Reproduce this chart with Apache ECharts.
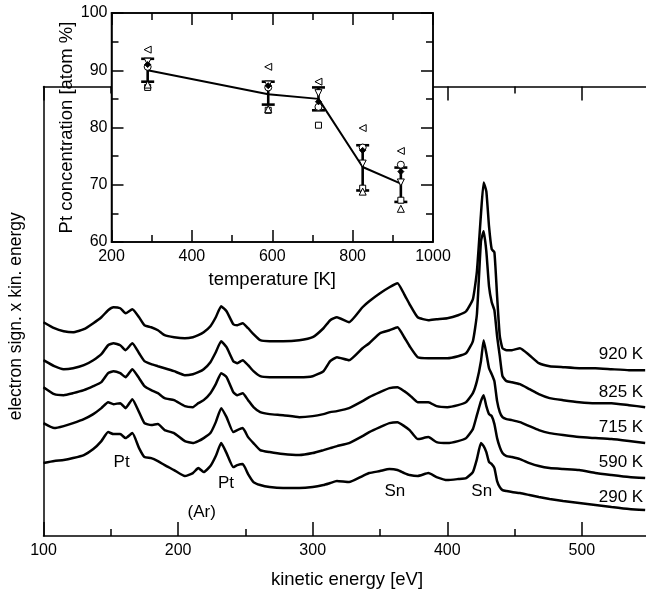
<!DOCTYPE html>
<html><head><meta charset="utf-8">
<script src="https://cdn.jsdelivr.net/npm/echarts@6/dist/echarts.min.js"></script>
<style>html,body{margin:0;padding:0;background:#fff}#c{width:646px;height:595px}</style>
</head><body><div id="c"></div>
<script>
// ---- main spectra (kinetic energy [eV] vs. electron signal x kinetic energy, offset, arb. units)
const energy = [100,108,115,122,130,137,143,148,152,157,161,166,171,175,180,185,190,197,205,211,215,219,224,228,232,236,241,244,248,252,256,261,268,278,290,300,308,313,318,327,337,342,350,357,363,368,372,378,386,392,400,408,414,419,422,425,427,429,431,433,435,437,439,441,444,448,454,461,468,476,486,498,510,522,535,547];
const s290 = [73,75,76,78,81,87,95,104,102,102,98,103,88,79,78,75,71,66,60,63,68,64,70,80,93,83,69,71,72,62,54,51,49,48,48,49,51,53,55,54,60,63,65,67,66,63,61,60,63,59,56,57,58,64,77,93,90,84,74,72,68,55,49,46,45,44,43,41,39,37,35,33,31,29,27,26];
const s590 = [113,108,110,113,117,122,128,134,132,133,128,137,124,113,111,112,106,103,95,93,95,98,103,114,128,119,104,106,108,99,93,86,84,82,81,83,86,88,90,93,100,104,109,113,114,110,106,97,99,94,93,95,98,107,121,135,141,130,122,120,112,98,89,83,80,79,77,73,70,68,67,66,63,61,59,58];
const s715 = [149,142,141,143,146,150,154,163,165,163,159,167,158,150,146,143,138,136,130,129,133,136,143,152,163,159,144,141,143,136,129,124,122,121,119,120,122,124,125,128,135,139,144,148,149,145,141,134,134,130,129,131,134,143,155,175,196,183,168,162,155,135,124,119,117,116,114,110,106,103,101,99,98,97,95,93];
const s825 = [176,170,167,168,171,176,182,191,193,191,186,193,183,175,172,170,168,165,161,162,164,167,174,184,195,189,175,173,176,171,165,160,159,159,159,160,165,175,179,176,188,193,203,206,209,199,190,179,178,178,178,180,183,195,222,295,305,285,250,234,226,200,180,160,155,154,152,147,142,138,136,134,133,133,131,129];
const s920 = [214,208,205,204,207,213,219,226,229,228,223,227,219,211,209,206,201,199,198,199,201,204,210,219,230,225,212,211,213,208,202,196,195,195,196,199,208,216,219,214,229,235,243,249,253,242,232,219,216,217,218,221,225,237,265,322,354,345,310,287,284,240,200,188,186,186,188,181,173,170,169,168,168,167,166,166];
const spectrumNames = ['290 K','590 K','715 K','825 K','920 K'];
const spectrumLabelY = [39, 74, 109, 144, 182];
const spectrumLabelE = 545.5;
const peakNames = ['Pt','Pt','(Ar)','Sn','Sn'];
const peakE = [158, 235.6, 217.5, 361, 425.6];
const peakY = [74, 53, 24, 45, 45];

// ---- inset: Pt concentration vs temperature
const temps = [290, 590, 715, 825, 920];
const ptMean = [90, 85.8, 85, 73.1, 70.2];
const ptHi = [92, 88, 87, 76.9, 73];
const ptLo = [88, 84, 83, 69, 67];
const ptLeftTri = [93.6, 90.6, 88.0, 79.9, 75.9];
const ptDownTri = [91.5, 87.5, 86.0, 73.7, 70.4];
const ptCircle = [90.6, 87.0, 83.6, 76.5, 73.5];
const ptDiamond = [91.0, 87.3, 84.5, 76.0, 72.3];
const ptSquare = [87.0, 83.0, 80.4, 69.4, 67.3];
const ptUpTri = [87.5, 83.2, 83.8, 68.8, 65.8];

const FONT = "'Liberation Sans', Arial, Helvetica, sans-serif";
const BLACK = '#000';

function pairs(xs, ys){ return xs.map((x,i)=>[x, ys[i]]); }

const spectra = [s290, s590, s715, s825, s920];
const series = [];
spectra.forEach((s, k) => {
  series.push({
    type: 'line', xAxisIndex: 0, yAxisIndex: 0, data: pairs(energy, s),
    showSymbol: false, symbol: 'none', smooth: 0.15,
    lineStyle: {color: BLACK, width: 2.5}, z: 2, silent: true
  });
});
series.push({
  type: 'scatter', xAxisIndex: 0, yAxisIndex: 0, symbolSize: 0, z: 3,
  itemStyle: {opacity: 1},
  data: spectrumNames.map((n,i)=>({name:n, value:[spectrumLabelE, spectrumLabelY[i]]})),
  label: {show: true, position: 'left', distance: 0, formatter: p => p.name,
    color: BLACK, fontSize: 17, fontFamily: FONT}
});
series.push({
  type: 'scatter', xAxisIndex: 0, yAxisIndex: 0, symbolSize: 0, z: 3,
  itemStyle: {opacity: 1},
  data: peakNames.map((n,i)=>({name:n, value:[peakE[i], peakY[i]]})),
  label: {show: true, position: 'inside', formatter: p => p.name,
    color: BLACK, fontSize: 17, fontFamily: FONT}
});

// inset series
series.push({
  type: 'line', xAxisIndex: 2, yAxisIndex: 1, data: pairs(temps, ptMean),
  showSymbol: false, symbol: 'none', lineStyle: {color: BLACK, width: 2}, z: 20, silent: true
});
series.push({
  type: 'custom', xAxisIndex: 2, yAxisIndex: 1, z: 21, silent: true,
  data: temps.map((t,i)=>[t, ptLo[i], ptHi[i]]),
  encode: {x: 0, y: [1,2]},
  renderItem: (params, api) => {
    const x = api.value(0);
    const a = api.coord([x, api.value(2)]);
    const b = api.coord([x, api.value(1)]);
    const w = 6.5;
    const st = {stroke: BLACK, lineWidth: 2.6};
    return {type: 'group', children: [
      {type:'line', shape:{x1:a[0], y1:a[1], x2:b[0], y2:b[1]}, style: st},
      {type:'line', shape:{x1:a[0]-w, y1:a[1], x2:a[0]+w, y2:a[1]}, style: st},
      {type:'line', shape:{x1:b[0]-w, y1:b[1], x2:b[0]+w, y2:b[1]}, style: st}
    ]};
  }
});
function markerSeries(vals, symbol, rotate, size, filled){
  return {type:'scatter', xAxisIndex: 2, yAxisIndex: 1, data: pairs(temps, vals),
    symbol: symbol, symbolRotate: rotate, symbolSize: size, z: 22, silent: true,
    itemStyle: {color: filled ? BLACK : '#fff', borderColor: BLACK, borderWidth: 1, opacity: 1}};
}
series.push(markerSeries(ptLeftTri, 'triangle', 90, 7, false));
series.push(markerSeries(ptSquare, 'rect', 0, 6, false));
series.push(markerSeries(ptUpTri, 'triangle', 0, 7, false));
series.push(markerSeries(ptCircle, 'circle', 0, 7, false));
series.push(markerSeries(ptDownTri, 'triangle', 180, 7, false));
series.push(markerSeries(ptDiamond, 'diamond', 0, 6, true));

const axLine = {lineStyle: {color: BLACK, width: 1.5}};
const plain = v => String(v);
const chart = echarts.init(document.getElementById('c'), null, {renderer: 'canvas'});
chart.setOption({
  animation: false,
  backgroundColor: '#fff',
  textStyle: {fontFamily: FONT},
  grid: [
    {left: 43.5, top: 86.5, width: 673, height: 449.5, z: 0, outerBoundsMode: 'none', containLabel: false},
    {left: 111.5, top: 13, width: 321.5, height: 229, show: true, backgroundColor: '#fff',
     borderColor: BLACK, borderWidth: 1.5, z: 8, outerBoundsMode: 'none', containLabel: false}
  ],
  xAxis: [
    {gridIndex: 0, type: 'value', min: 100, max: 600, interval: 100, position: 'bottom', z: 1,
     axisLine: axLine, axisTick: {inside: true, length: 14, lineStyle: {color: BLACK, width: 1.5}},
     minorTick: {show: true, splitNumber: 2, length: 7, lineStyle: {color: BLACK, width: 1.5}},
     axisLabel: {color: BLACK, fontSize: 16, margin: 7, fontFamily: FONT, formatter: plain},
     splitLine: {show: false},
     name: 'kinetic energy [eV]', nameLocation: 'middle', nameGap: 34,
     nameTextStyle: {color: BLACK, fontSize: 18.5, fontFamily: FONT, padding: [0, 66, 0, 0]}
    },
    {gridIndex: 0, type: 'value', min: 100, max: 600, interval: 100, position: 'top', z: 1,
     axisLine: axLine, axisTick: {inside: true, length: 14, lineStyle: {color: BLACK, width: 1.5}},
     minorTick: {show: true, splitNumber: 2, length: 7, lineStyle: {color: BLACK, width: 1.5}},
     axisLabel: {show: false}, splitLine: {show: false}},
    {gridIndex: 1, type: 'value', min: 200, max: 1000, interval: 200, position: 'bottom', z: 9,
     axisLine: axLine, axisTick: {inside: true, length: 12, lineStyle: {color: BLACK, width: 1.5}},
     minorTick: {show: true, splitNumber: 2, length: 7, lineStyle: {color: BLACK, width: 1.5}},
     axisLabel: {color: BLACK, fontSize: 16, margin: 7, fontFamily: FONT, formatter: plain},
     splitLine: {show: false},
     name: 'temperature [K]', nameLocation: 'middle', nameGap: 28,
     nameTextStyle: {color: BLACK, fontSize: 18.5, fontFamily: FONT}},
    {gridIndex: 1, type: 'value', min: 200, max: 1000, interval: 200, position: 'top', z: 9,
     axisLine: axLine, axisTick: {inside: true, length: 12, lineStyle: {color: BLACK, width: 1.5}},
     minorTick: {show: true, splitNumber: 2, length: 7, lineStyle: {color: BLACK, width: 1.5}},
     axisLabel: {show: false}, splitLine: {show: false}}
  ],
  yAxis: [
    {gridIndex: 0, type: 'value', min: 0, max: 450, z: 1,
     axisLine: {show: true, lineStyle: {color: BLACK, width: 1.5}}, axisTick: {show: false},
     axisLabel: {show: false}, splitLine: {show: false},
     name: 'electron sign. x kin. energy', nameLocation: 'middle', nameGap: 18,
     nameTextStyle: {color: BLACK, fontSize: 17.5, fontFamily: FONT, padding: [0, 10, 0, 0]}},
    {gridIndex: 1, type: 'value', min: 60, max: 100, interval: 10, position: 'left', z: 9,
     axisLine: axLine, axisTick: {inside: true, length: 12, lineStyle: {color: BLACK, width: 1.5}},
     minorTick: {show: true, splitNumber: 2, length: 7, lineStyle: {color: BLACK, width: 1.5}},
     axisLabel: {color: BLACK, fontSize: 16, margin: 4, fontFamily: FONT, formatter: plain},
     splitLine: {show: false},
     name: 'Pt concentration [atom %]', nameLocation: 'middle', nameGap: 34,
     nameTextStyle: {color: BLACK, fontSize: 18.5, fontFamily: FONT}},
    {gridIndex: 1, type: 'value', min: 60, max: 100, interval: 10, position: 'right', z: 9,
     axisLine: axLine, axisTick: {inside: true, length: 12, lineStyle: {color: BLACK, width: 1.5}},
     minorTick: {show: true, splitNumber: 2, length: 7, lineStyle: {color: BLACK, width: 1.5}},
     axisLabel: {show: false}, splitLine: {show: false}}
  ],
  series: series
});
</script></body></html>
